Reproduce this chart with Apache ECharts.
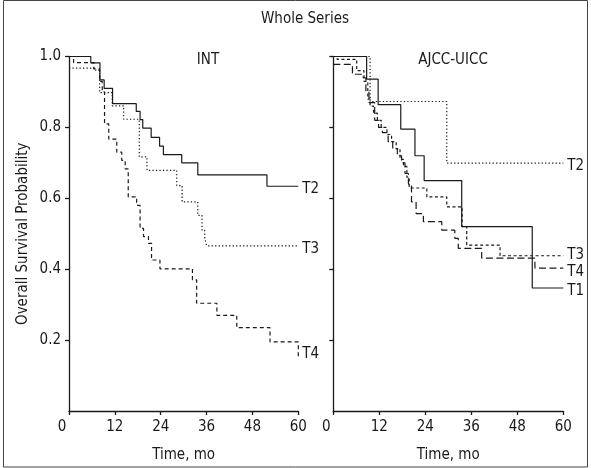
<!DOCTYPE html>
<html>
<head>
<meta charset="utf-8">
<script src="https://cdn.jsdelivr.net/npm/echarts@6/dist/echarts.min.js"></script>
<style>
html,body{margin:0;padding:0;background:#fff;}
#c{width:591px;height:468px;}
</style>
</head>
<body>
<div id="c"></div>
<script>
// ---- Data (months, survival probability) ----
var xTicks = [0, 12, 24, 36, 48, 60];
var yTicks = [0.2, 0.4, 0.6, 0.8, 1.0];

// INT panel
var intT2Time = [0, 5.7, 8.1, 9.2, 11.4, 17.6, 18.6, 19.3, 21.5, 23.7, 24.7, 29.5, 33.7, 51.8, 60];
var intT2Surv = [1.0, 0.982, 0.934, 0.91, 0.867, 0.845, 0.822, 0.798, 0.772, 0.747, 0.723, 0.70, 0.666, 0.634, 0.634];
var intT3Time = [0, 7.0, 8.0, 11.3, 14.3, 18.4, 20.4, 28.2, 29.6, 33.7, 34.8, 35.5, 36.0, 60];
var intT3Surv = [0.967, 0.961, 0.898, 0.861, 0.823, 0.717, 0.679, 0.636, 0.59, 0.552, 0.51, 0.49, 0.466, 0.466];
var intT4Time = [0, 1.2, 6.5, 8.0, 8.7, 9.3, 10.4, 12.5, 13.8, 14.7, 15.5, 17.7, 18.6, 19.5, 20.8, 21.6, 23.8, 32.3, 33.4, 38.7, 43.9, 52.6, 60, 60];
var intT4Surv = [1.0, 0.983, 0.965, 0.93, 0.90, 0.81, 0.767, 0.73, 0.707, 0.683, 0.604, 0.58, 0.515, 0.492, 0.473, 0.426, 0.401, 0.37, 0.304, 0.27, 0.235, 0.195, 0.195, 0.15];

// AJCC-UICC panel
var ajT1Time = [0, 8.7, 11.7, 17.6, 21.3, 23.7, 33.5, 51.9, 60];
var ajT1Surv = [1.0, 0.936, 0.864, 0.795, 0.72, 0.65, 0.52, 0.347, 0.347];
var ajT2Time = [0, 9.6, 29.6, 60];
var ajT2Surv = [1.0, 0.873, 0.699, 0.699];
var ajT3Time = [0, 1.0, 6.1, 8.0, 9.0, 9.6, 10.5, 11.5, 12.5, 14.0, 15.2, 16.4, 17.4, 18.3, 19.2, 19.8, 24.4, 29.6, 33.6, 34.8, 43.5, 60];
var ajT3Surv = [1.0, 0.992, 0.96, 0.93, 0.88, 0.86, 0.84, 0.82, 0.80, 0.78, 0.76, 0.74, 0.71, 0.69, 0.66, 0.629, 0.604, 0.576, 0.52, 0.468, 0.438, 0.438];
var ajT4Time = [0, 5.0, 7.8, 8.5, 9.3, 10.8, 11.8, 12.8, 14.3, 15.5, 16.7, 17.8, 18.7, 19.6, 20.4, 21.6, 23.5, 28.3, 31.7, 32.6, 38.7, 52.6, 60];
var ajT4Surv = [0.978, 0.95, 0.94, 0.90, 0.87, 0.82, 0.80, 0.785, 0.76, 0.74, 0.72, 0.70, 0.67, 0.64, 0.59, 0.557, 0.534, 0.51, 0.487, 0.459, 0.431, 0.403, 0.403];

function zip(t, s) { return t.map(function (v, i) { return [v, s[i]]; }); }

var FONT = '"Liberation Sans Narrow", "DejaVu Sans Condensed", sans-serif';
var FS = 15;
var INK = '#1a1a1a';

function xAxisFor(gi) {
  return {
    gridIndex: gi, type: 'value', min: 0, max: 60, interval: 12,
    name: 'Time, mo', nameLocation: 'middle', nameGap: 37,
    nameTextStyle: { fontFamily: FONT, fontSize: FS, color: INK },
    axisLine: { show: true, lineStyle: { color: INK, width: 1.3 } },
    axisTick: { show: true, length: 4, inside: false, lineStyle: { color: INK, width: 1.3 } },
    axisLabel: {
      margin: 9, fontFamily: FONT, fontSize: FS, color: INK,
      formatter: function (v) { return v === 0 ? '{z|0}' : String(v); },
      rich: { z: { fontFamily: FONT, fontSize: FS, color: INK, padding: [0, 14, 0, 0] } }
    },
    splitLine: { show: false }
  };
}
function yAxisFor(gi, showLabels) {
  return {
    gridIndex: gi, type: 'value', min: 0, max: 1.0, interval: 0.2,
    name: showLabels ? 'Overall Survival Probability' : '',
    nameLocation: 'middle', nameGap: 38,
    nameTextStyle: { fontFamily: FONT, fontSize: FS, color: INK },
    axisLine: { show: true, onZero: false, lineStyle: { color: INK, width: 1.3 } },
    axisTick: { show: true, length: 4, inside: false, lineStyle: { color: INK, width: 1.3 },
      customValues: yTicks },
    axisLabel: {
      show: showLabels, margin: 8, fontFamily: FONT, fontSize: FS, color: INK,
      customValues: yTicks,
      formatter: function (v) { return v.toFixed(1); }
    },
    splitLine: { show: false }
  };
}

function km(name, xi, t, s, dash, labelOffset) {
  return {
    name: name, type: 'line', step: 'end', xAxisIndex: xi, yAxisIndex: xi,
    data: zip(t, s), symbol: 'none', silent: true, animation: false,
    lineStyle: { color: INK, width: 1.2, type: dash },
    endLabel: {
      show: true, formatter: name, fontFamily: FONT, fontSize: FS, color: INK,
      distance: 4, offset: labelOffset || [0, 3]
    }
  };
}

var chart = echarts.init(document.getElementById('c'), null, { renderer: 'canvas' });
chart.setOption({
  backgroundColor: '#fff',
  animation: false,
  title: [
    { text: 'Whole Series', left: 300, top: 7, textAlign: 'center',
      textStyle: { fontFamily: FONT, fontSize: FS, fontWeight: 'normal', color: INK } },
    { text: 'INT', left: 203, top: 48, textAlign: 'center',
      textStyle: { fontFamily: FONT, fontSize: FS, fontWeight: 'normal', color: INK } },
    { text: 'AJCC-UICC', left: 448, top: 48, textAlign: 'center',
      textStyle: { fontFamily: FONT, fontSize: FS, fontWeight: 'normal', color: INK } }
  ],
  grid: [
    { left: 69, top: 56.5, width: 229.3, height: 357 },
    { left: 333.3, top: 56.5, width: 230, height: 357 }
  ],
  xAxis: [xAxisFor(0), xAxisFor(1)],
  yAxis: [yAxisFor(0, true), yAxisFor(1, false)],
  series: [
    km('T2', 0, intT2Time, intT2Surv, 'solid'),
    km('T3', 0, intT3Time, intT3Surv, [1.3, 2.2]),
    km('T4', 0, intT4Time, intT4Surv, [4, 3], [0, -4]),
    km('T1', 1, ajT1Time, ajT1Surv, 'solid'),
    km('T2', 1, ajT2Time, ajT2Surv, [1.3, 2.2]),
    km('T3', 1, ajT3Time, ajT3Surv, [3, 2.5], [0, -1]),
    km('T4', 1, ajT4Time, ajT4Surv, [7, 3.5], [0, 4])
  ],
  graphic: [
    { type: 'rect', shape: { x: 3.5, y: 0.5, width: 584, height: 466.5 },
      style: { fill: 'none', stroke: '#444', lineWidth: 1 }, silent: true }
  ]
});
</script>
</body>
</html>
